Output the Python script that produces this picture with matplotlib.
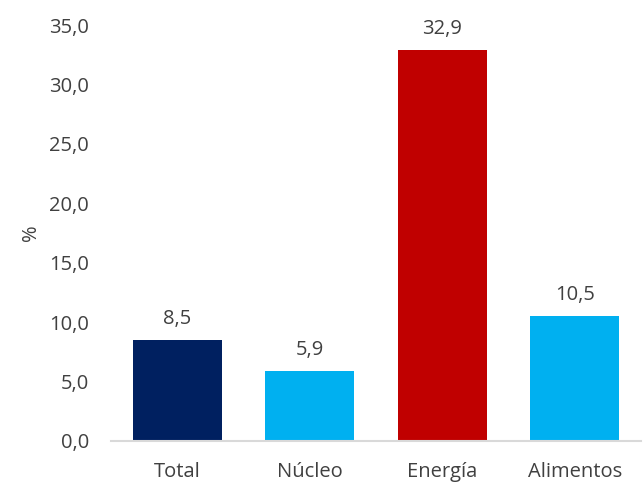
import matplotlib
matplotlib.use("Agg")
import matplotlib.pyplot as plt

# inflation by component, %
categories = ["Total", "Núcleo", "Energía", "Alimentos"]
values = [8.5, 5.9, 32.9, 10.5]
colors = ["#002060", "#00B0F0", "#C00000", "#00B0F0"]
yticks = [0, 5, 10, 15, 20, 25, 30, 35]

plt.rcParams["font.family"] = ["Open Sans", "DejaVu Sans"]
text_color = "#404040"
fs = 14.5

fig = plt.figure(figsize=(6.44, 4.82), dpi=100)
ax = fig.add_axes([0.1724, 0.0851, 0.823, 0.863])

x = range(len(categories))
bars = ax.bar(x, values, width=0.67, color=colors)

for rect, v in zip(bars, values):
    ax.text(rect.get_x() + rect.get_width() / 2, v + 0.9,
            f"{v:.1f}".replace(".", ","), ha="center", va="bottom",
            fontsize=fs, color=text_color)

ax.set_xlim(-0.5, len(categories) - 0.5)
ax.set_ylim(0, 35)
ax.set_yticks(yticks)
ax.set_yticklabels([f"{t:.1f}".replace(".", ",") for t in yticks])
ax.set_xticks(list(x))
ax.set_xticklabels(categories)
ax.tick_params(axis="both", length=0, labelsize=fs, colors=text_color)
ax.tick_params(axis="y", pad=16)
ax.tick_params(axis="x", pad=15)
ax.set_ylabel("%", fontsize=fs, color=text_color, labelpad=6)

for side in ["top", "right", "left"]:
    ax.spines[side].set_visible(False)
ax.spines["bottom"].set_color("#D9D9D9")
ax.spines["bottom"].set_linewidth(1.5)

fig.savefig("out.png", dpi=100)
